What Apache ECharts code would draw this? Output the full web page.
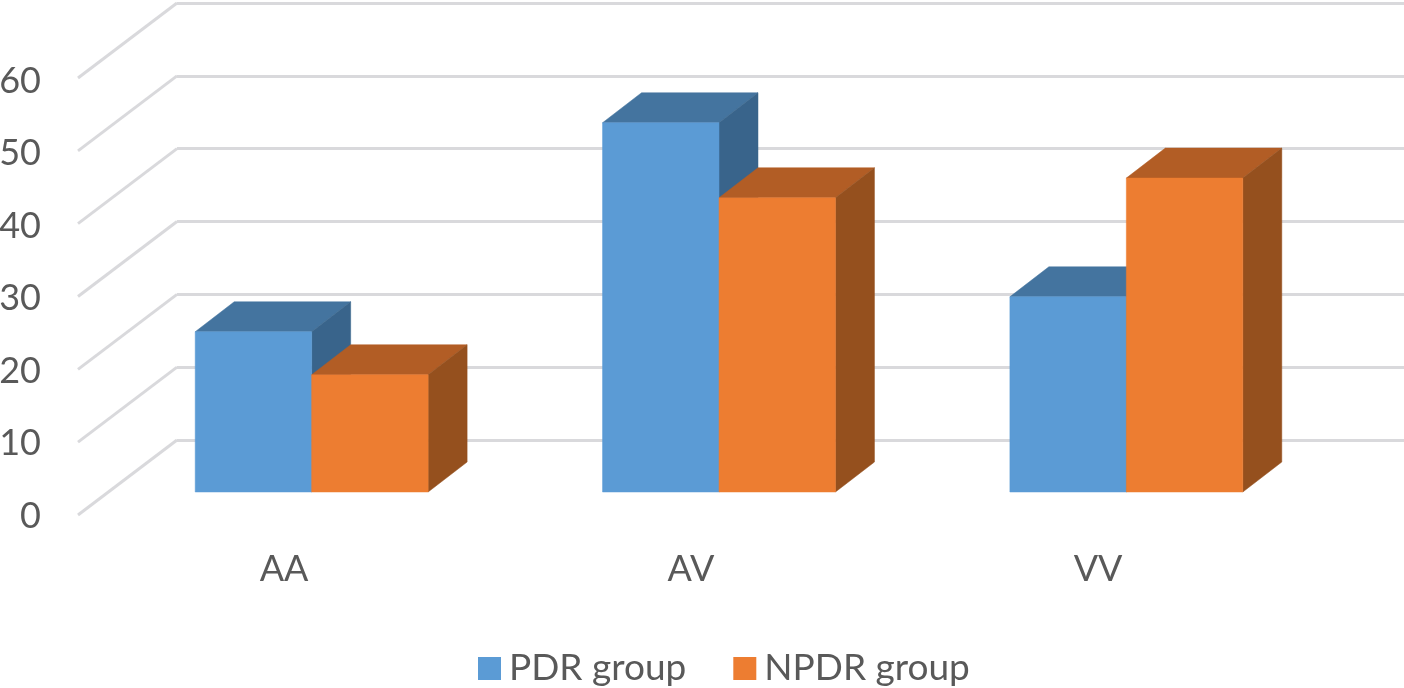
<!DOCTYPE html>
<html><head><meta charset="utf-8">
<style>html,body{margin:0;padding:0;background:#fff}#c{width:1404px;height:688px}</style>
<script src="https://cdn.jsdelivr.net/npm/echarts@6/dist/echarts.min.js"></script>
</head><body><div id="c"></div>
<script>
const categories = ['AA', 'AV', 'VV'];
const pdrValues = [22, 50.7, 26.8];
const npdrValues = [16.1, 40.4, 43.1];
const yTicks = [0, 10, 20, 30, 40, 50, 60];
const seriesNames = ['PDR group', 'NPDR group'];

const FONT = 'Lato, "Open Sans", sans-serif';
const TEXT = '#595959';
const GRID_LINE = '#D9D9DC';
const WALL = [99, 75];
const BAR_DEPTH = [39, 30];
const BAR_FRAC = 116.5 / 407.5;

function barItem(sign, front, top, side) {
  return function (params, api) {
    const cat = api.value(0), v = api.value(1);
    const base = api.coord([cat, 0]);
    const tip = api.coord([cat, v]);
    const w = api.size([1, 0])[0] * BAR_FRAC;
    const x0 = sign < 0 ? base[0] - w : base[0];
    const x1 = x0 + w, y0 = tip[1], y1 = base[1];
    const dx = BAR_DEPTH[0], dy = BAR_DEPTH[1];
    const poly = (pts, fill) => ({ type: 'polygon', shape: { points: pts },
      style: { fill: fill, stroke: fill, lineWidth: 0.5 } });
    return { type: 'group', children: [
      poly([[x0, y0], [x0 + dx, y0 - dy], [x1 + dx, y0 - dy], [x1, y0]], top),
      poly([[x1, y0], [x1 + dx, y0 - dy], [x1 + dx, y1 - dy], [x1, y1]], side),
      poly([[x0, y0], [x1, y0], [x1, y1], [x0, y1]], front)
    ]};
  };
}

function wallItem(params, api) {
  const sys = params.coordSys;
  const y = api.coord([0, api.value(0)])[1];
  return { type: 'line',
    shape: { x1: sys.x, y1: y, x2: sys.x + WALL[0], y2: y - WALL[1] },
    style: { stroke: GRID_LINE, lineWidth: 3 } };
}

const hiddenCat = gi => ({ type: 'category', gridIndex: gi, data: categories, show: false });
const hiddenVal = gi => ({ type: 'value', gridIndex: gi, min: 0, max: 60, interval: 10, show: false });

const chart = echarts.init(document.getElementById('c'), null, { renderer: 'canvas' });
chart.setOption({
  animation: false,
  backgroundColor: '#fff',
  grid: [
    { left: 177, top: 3, width: 1227, height: 437, outerBoundsMode: 'none' },
    { left: 78, top: 78, width: 1221, height: 437, outerBoundsMode: 'none' },
    { left: 108, top: 55, width: 1222, height: 437, outerBoundsMode: 'none' },
    { left: 78, top: 81, width: 1221, height: 435, outerBoundsMode: 'none' }
  ],
  xAxis: [
    hiddenCat(0),
    { type: 'category', gridIndex: 1, data: categories,
      axisLine: { show: false }, axisTick: { show: false },
      axisLabel: { color: TEXT, fontFamily: FONT, fontSize: 36, margin: 36, padding: [0, 0, 0, 5] } },
    hiddenCat(2),
    hiddenCat(3)
  ],
  yAxis: [
    { type: 'value', gridIndex: 0, min: 0, max: 60, interval: 10,
      axisLine: { show: false }, axisTick: { show: false }, axisLabel: { show: false },
      splitLine: { show: true, lineStyle: { color: GRID_LINE, width: 3 } } },
    hiddenVal(1),
    hiddenVal(2),
    { type: 'value', gridIndex: 3, min: 0, max: 60, interval: 10,
      axisLine: { show: false }, axisTick: { show: false }, splitLine: { show: false },
      axisLabel: { color: TEXT, fontFamily: FONT, fontSize: 36, margin: 37 } }
  ],
  legend: {
    data: seriesNames, left: 473, top: 645, icon: 'rect',
    itemWidth: 23, itemHeight: 23, itemGap: 47,
    textStyle: { color: TEXT, fontFamily: FONT, fontSize: 37, padding: [0, 0, 0, 3] }
  },
  series: [
    { type: 'custom', name: 'walls', xAxisIndex: 1, yAxisIndex: 1, silent: true,
      data: yTicks.map(v => [v]), encode: { y: 0 }, renderItem: wallItem, z: 1 },
    { type: 'custom', name: seriesNames[0], xAxisIndex: 2, yAxisIndex: 2, z: 3,
      itemStyle: { color: '#5B9BD5' },
      data: pdrValues.map((v, i) => [i, v]), encode: { x: 0, y: 1 },
      renderItem: barItem(-1, '#5B9BD5', '#44749F', '#39648B') },
    { type: 'custom', name: seriesNames[1], xAxisIndex: 2, yAxisIndex: 2, z: 4,
      itemStyle: { color: '#ED7D31' },
      data: npdrValues.map((v, i) => [i, v]), encode: { x: 0, y: 1 },
      renderItem: barItem(1, '#ED7D31', '#B25D25', '#95501E') }
  ]
});
</script></body></html>
